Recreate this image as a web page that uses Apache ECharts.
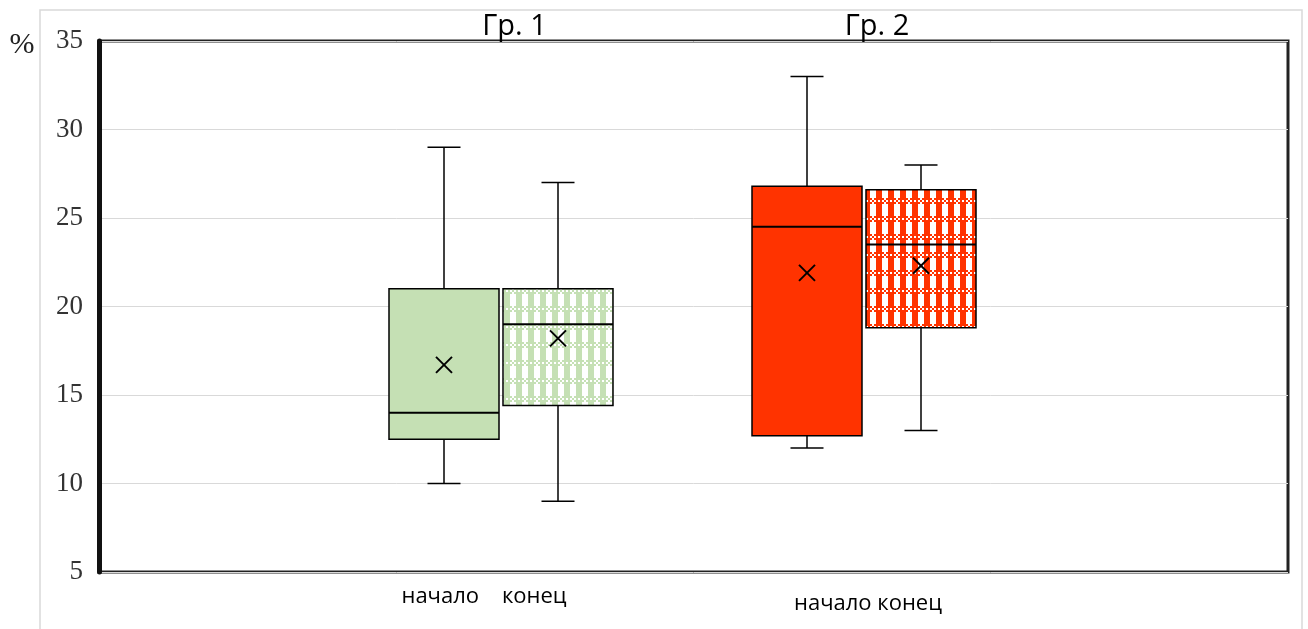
<!DOCTYPE html>
<html><head><meta charset="utf-8">
<script src="https://cdn.jsdelivr.net/npm/echarts@6/dist/echarts.min.js"></script>
<style>html,body{margin:0;padding:0;background:#fff}#c{width:1308px;height:629px}</style>
</head><body><div id="c"></div>
<script>
// ---- data ----
const groups = ['Гр. 1', 'Гр. 2'];
const phases = ['начало', 'конец'];
const bottomLabels = ['начало    конец', 'начало конец'];
// [min, Q1, median, Q3, max] per group
const startBox = [[10, 12.5, 14, 21, 29], [12, 12.7, 24.5, 26.8, 33]];
const endBox   = [[9, 14.4, 19, 21, 27], [13, 18.8, 23.5, 26.6, 28]];
const startMean = [16.7, 21.9];
const endMean   = [18.2, 22.3];
const yTicks = [5, 10, 15, 20, 25, 30, 35];
const yUnit = '%';

// ---- styles ----
const green = '#c5e0b4';
const red = '#ff3300';
function makePattern(color) {
  const c = document.createElement('canvas');
  const W = 12, H = 18;
  c.width = W; c.height = H;
  const ctx = c.getContext('2d');
  ctx.fillStyle = '#ffffff'; ctx.fillRect(0, 0, W, H);
  ctx.fillStyle = color;
  for (let y = 0; y < H; y++) {
    for (let x = 0; x < W; x++) {
      let on;
      if (y < 6) {
        const bx = Math.floor(x / 2), by = Math.floor(y / 2);
        on = !((bx + by) % 2 === 0 && by === 1);
        if (x >= 6 && by !== 1) on = (bx + by) % 2 === 1;
      } else {
        on = x < 6;
      }
      if (on) ctx.fillRect(x, y, 1, 1);
    }
  }
  return { image: c, repeat: 'repeat' };
}
const fills = [
  [green, makePattern(green)],
  [red, makePattern(red)]
];

const data = [];
groups.forEach((g, gi) => {
  data.push([gi, 0].concat(startBox[gi], [startMean[gi]]));
  data.push([gi, 1].concat(endBox[gi], [endMean[gi]]));
});

const boxW = 110, offset = 57, capW = 33, crossR = 8;
function renderItem(params, api) {
  const gi = api.value(0), pi = api.value(1);
  const vals = [2, 3, 4, 5, 6].map(i => api.value(i));
  const mean = api.value(7);
  const cx = Math.round(api.coord([gi, vals[0]])[0] + (pi === 0 ? -offset : offset));
  const Y = v => api.coord([gi, v])[1];
  const yMin = Y(vals[0]), yQ1 = Y(vals[1]), yMed = Y(vals[2]), yQ3 = Y(vals[3]), yMax = Y(vals[4]);
  const ym = Y(mean);
  const L = (x1, y1, x2, y2, w) => ({ type: 'line', shape: { x1, y1, x2, y2 }, style: { stroke: '#000', lineWidth: w || 1.5 } });
  return {
    type: 'group',
    children: [
      L(cx, yMax, cx, yQ3),
      L(cx, yQ1, cx, yMin),
      L(cx - capW / 2, yMax, cx + capW / 2, yMax),
      L(cx - capW / 2, yMin, cx + capW / 2, yMin),
      { type: 'rect', shape: { x: cx - boxW / 2, y: yQ3, width: boxW, height: yQ1 - yQ3 },
        style: { fill: fills[gi][pi], stroke: '#000', lineWidth: 1.5 } },
      L(cx - boxW / 2, yMed, cx + boxW / 2, yMed, 2),
      L(cx - crossR, ym - crossR, cx + crossR, ym + crossR, 2),
      L(cx - crossR, ym + crossR, cx + crossR, ym - crossR, 2)
    ]
  };
}

const chart = echarts.init(document.getElementById('c'), null, { renderer: 'canvas' });
const gridTop = 41, gridBottom = 57;
chart.setOption({
  backgroundColor: '#fff',
  animation: false,
  grid: [
    { left: 99, right: 20, top: gridTop, bottom: gridBottom, show: true, borderColor: '#222', borderWidth: 3, backgroundColor: 'transparent' },
    { left: 319.75, right: 263.25, top: gridTop, bottom: gridBottom }
  ],
  xAxis: [
    { gridIndex: 0, type: 'value', min: 0, max: 1, show: false },
    { gridIndex: 1, type: 'category', data: groups, position: 'top',
      axisLine: { show: false }, axisTick: { show: false }, splitLine: { show: false },
      axisLabel: { fontFamily: 'Open Sans', fontSize: 29, color: '#000', margin: 0, padding: [0, 0, 0, 27] } }
  ],
  yAxis: [
    { gridIndex: 0, type: 'value', min: yTicks[0], max: yTicks[yTicks.length - 1], interval: yTicks[1] - yTicks[0],
      axisLine: { show: true, lineStyle: { color: '#111', width: 5 } },
      axisTick: { show: false },
      axisLabel: { fontFamily: 'Liberation Serif', fontSize: 27, color: '#333', margin: 16 },
      splitLine: { show: true, lineStyle: { color: '#d9d9d9', width: 1 } } },
    { gridIndex: 1, type: 'value', min: yTicks[0], max: yTicks[yTicks.length - 1], show: false }
  ],
  series: [{
    type: 'custom', xAxisIndex: 1, yAxisIndex: 1,
    renderItem, data, encode: { x: 0, y: [2, 3, 4, 5, 6] }, z: 5
  }],
  graphic: [
    { type: 'rect', shape: { x: 40, y: 10, width: 1262, height: 640 }, style: { fill: 'none', stroke: '#d9d9d9', lineWidth: 1.5 }, silent: true, z: -1 },
    { type: 'text', x: 22, y: 45, style: { text: yUnit, font: '30px "Liberation Serif"', fill: '#222', align: 'center', verticalAlign: 'middle' } },
    { type: 'text', x: 484, y: 597, style: { text: bottomLabels[0], font: '22px "Open Sans"', fill: '#000', align: 'center', verticalAlign: 'middle' } },
    { type: 'text', x: 868, y: 604, style: { text: bottomLabels[1], font: '22px "Open Sans"', fill: '#000', align: 'center', verticalAlign: 'middle' } }
  ]
});
</script>
</body></html>
